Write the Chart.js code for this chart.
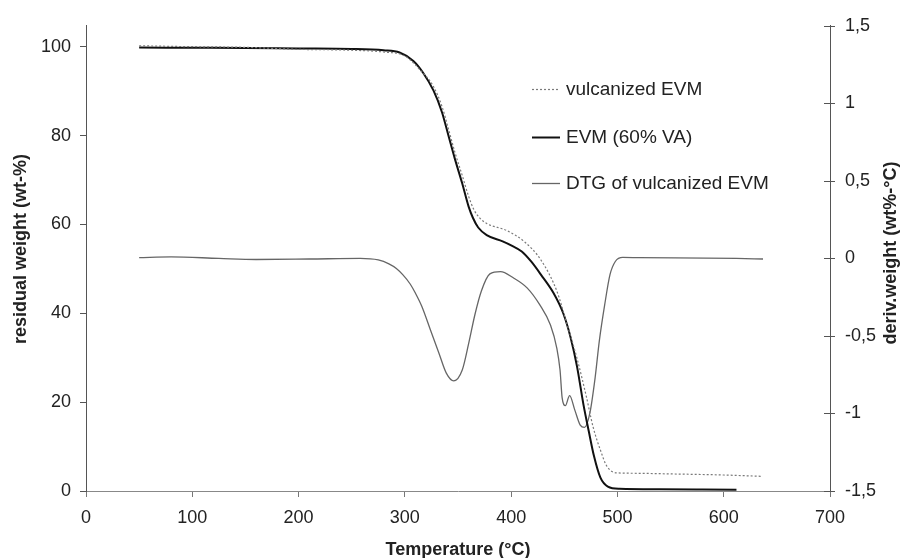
<!DOCTYPE html>
<html>
<head>
<meta charset="utf-8">
<script src="https://cdn.jsdelivr.net/npm/chart.js@4.4.1/dist/chart.umd.min.js"></script>
<style>
  body { margin: 0; background: #fff; }
  #wrap { width: 901px; height: 558px; position: relative; }
</style>
</head>
<body>
<div id="wrap"><canvas id="tgaChart"></canvas></div>
<script>
// EVM (60% VA) - residual weight vs temperature
const evmTemps = [50, 100, 150, 200, 250, 280, 295, 308, 317, 327, 335, 341, 347, 354, 360, 364, 369, 377, 392, 400, 410, 419, 428, 440, 449, 456, 462, 468, 473, 478, 484, 491, 502, 540, 580, 612];
const evmWeight = [99.8, 99.75, 99.7, 99.6, 99.5, 99.2, 98.7, 96.8, 94.2, 90.1, 85.2, 80.0, 74.8, 69.2, 64.0, 61.5, 59.3, 57.6, 56.2, 55.3, 53.9, 51.6, 48.7, 44.5, 40.0, 34.5, 28.0, 19.5, 13.5, 7.8, 3.0, 1.0, 0.5, 0.4, 0.35, 0.3];

// vulcanized EVM - residual weight
const vulcTemps = [50, 100, 150, 200, 250, 280, 300, 315, 327, 335, 341, 347, 354, 360, 365, 371, 377, 396, 412, 428, 443, 452, 462, 471, 477, 484, 490, 499, 512, 560, 600, 636];
const vulcWeight = [100.2, 100.0, 99.85, 99.4, 99.2, 98.8, 97.9, 94.6, 91.0, 86.5, 81.5, 76.3, 71.0, 66.3, 63.3, 61.3, 60.2, 58.6, 56.2, 52.0, 45.0, 38.0, 29.8, 21.0, 14.5, 9.2, 5.6, 4.1, 4.0, 3.8, 3.6, 3.3];

// DTG of vulcanized EVM (right axis)
const dtgTemps = [50, 80, 125, 160, 210, 258, 275, 285, 292, 298, 305, 310, 316, 324, 332, 339, 346, 354, 360, 366, 372, 380, 390, 402, 415, 427, 437, 443, 446, 448, 451, 455, 460, 465, 469, 474, 479, 483, 488, 493, 498, 505, 520, 612, 637];
const dtgValues = [0.005, 0.01, 0.0, -0.007, -0.004, 0.0, -0.01, -0.035, -0.065, -0.105, -0.165, -0.225, -0.31, -0.46, -0.61, -0.74, -0.79, -0.72, -0.55, -0.36, -0.21, -0.1, -0.085, -0.125, -0.19, -0.3, -0.43, -0.58, -0.72, -0.9, -0.95, -0.885, -0.98, -1.075, -1.09, -1.0, -0.77, -0.53, -0.3, -0.105, -0.02, 0.006, 0.005, 0.0, -0.004];

const xTicks = [0, 100, 200, 300, 400, 500, 600, 700];
const leftTicks = [0, 20, 40, 60, 80, 100];
const rightTicks = [-1.5, -1, -0.5, 0, 0.5, 1, 1.5];

const toPoints = (xs, ys) => xs.map((x, i) => ({ x: x, y: ys[i] }));
const useTicks = list => scale => { scale.ticks = list.map(v => ({ value: v })); };

const FONT = "'Liberation Sans', Arial, sans-serif";
Chart.defaults.font.family = FONT;
Chart.defaults.font.size = 18;
Chart.defaults.color = '#222';

// titles, right-axis cross ticks and the in-plot legend
const decorations = {
  id: 'decorations',
  afterDraw(chart) {
    const ctx = chart.ctx;
    const area = chart.chartArea;
    const y2 = chart.scales.y2;
    ctx.save();

    ctx.strokeStyle = '#555';
    ctx.lineWidth = 1;
    y2.ticks.forEach(t => {
      const py = Math.round(y2.getPixelForValue(t.value)) + 0.5;
      ctx.beginPath();
      ctx.moveTo(area.right - 6, py);
      ctx.lineTo(area.right + 5, py);
      ctx.stroke();
    });

    ctx.fillStyle = '#222';
    ctx.font = 'bold 18px ' + FONT;
    ctx.textAlign = 'center';
    ctx.textBaseline = 'alphabetic';
    ctx.fillText('Temperature (°C)', (area.left + area.right) / 2, 555);
    [['residual weight (wt-%)', 26, 249], ['deriv.weight (wt%-°C)', 896, 253]].forEach(([txt, x, y]) => {
      ctx.save();
      ctx.translate(x, y);
      ctx.rotate(-Math.PI / 2);
      ctx.fillText(txt, 0, 0);
      ctx.restore();
    });

    // legend
    const rows = [89, 137, 183];
    ctx.font = '19px ' + FONT;
    ctx.textAlign = 'left';
    ctx.textBaseline = 'middle';
    chart.data.datasets.forEach((ds, i) => {
      const y = rows[i] + 0.5;
      ctx.strokeStyle = ds.borderColor;
      ctx.lineWidth = ds.borderWidth;
      ctx.setLineDash(ds.borderDash || []);
      ctx.beginPath();
      ctx.moveTo(532, y);
      ctx.lineTo(560, y);
      ctx.stroke();
      ctx.setLineDash([]);
      ctx.fillText(ds.label, 566, rows[i] + 1);
    });
    ctx.restore();
  }
};

new Chart(document.getElementById('tgaChart'), {
  type: 'line',
  data: {
    datasets: [
      {
        label: 'vulcanized EVM',
        data: toPoints(vulcTemps, vulcWeight),
        yAxisID: 'y',
        borderColor: '#7a7a7a',
        borderWidth: 1.2,
        borderDash: [2, 2]
      },
      {
        label: 'EVM (60% VA)',
        data: toPoints(evmTemps, evmWeight),
        yAxisID: 'y',
        borderColor: '#111',
        borderWidth: 2
      },
      {
        label: 'DTG of vulcanized EVM',
        data: toPoints(dtgTemps, dtgValues),
        yAxisID: 'y2',
        borderColor: '#666',
        borderWidth: 1.3
      }
    ]
  },
  options: {
    responsive: true,
    maintainAspectRatio: false,
    animation: false,
    layout: { padding: { top: 23, left: 0, right: 0, bottom: 0 } },
    elements: {
      point: { radius: 0 },
      line: { cubicInterpolationMode: 'monotone', fill: false }
    },
    plugins: {
      legend: { display: false },
      tooltip: { enabled: false }
    },
    scales: {
      x: {
        type: 'linear',
        min: 0,
        max: 700,
        afterBuildTicks: useTicks(xTicks),
        afterFit: s => { s.height = 67; },
        grid: { drawOnChartArea: false, tickLength: 6, color: '#777' },
        border: { color: '#888', width: 1 },
        ticks: { padding: 10, maxRotation: 0 }
      },
      y: {
        position: 'left',
        min: 0,
        max: 104.7,
        afterBuildTicks: useTicks(leftTicks),
        afterFit: s => { s.width = 86; },
        grid: { drawOnChartArea: false, tickLength: 6, color: '#555' },
        border: { color: '#555', width: 1 },
        ticks: { padding: 9 }
      },
      y2: {
        position: 'right',
        min: -1.5,
        max: 1.5,
        afterBuildTicks: useTicks(rightTicks),
        afterFit: s => { s.width = 71; },
        grid: { display: false, drawTicks: false },
        border: { color: '#555', width: 1 },
        ticks: {
          padding: 15,
          callback: v => String(v).replace('.', ',')
        }
      }
    }
  },
  plugins: [decorations]
});
</script>
</body>
</html>
